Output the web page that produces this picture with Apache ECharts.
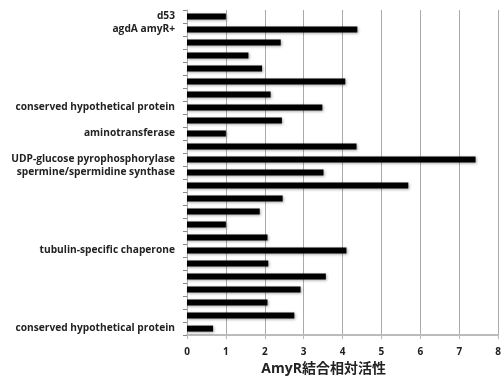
<!DOCTYPE html>
<html><head><meta charset="utf-8">
<script src="https://cdn.jsdelivr.net/npm/echarts@6/dist/echarts.min.js"></script>
<style>html,body{margin:0;padding:0;background:#fff}#c{width:504px;height:381px}</style>
</head><body><div id="c"></div>
<script>
const categories = ["d53","agdA amyR+","","","","","","conserved hypothetical protein","","aminotransferase","","UDP-glucose pyrophosphorylase","spermine/spermidine synthase","","","","","","tubulin-specific chaperone","","","","","","conserved hypothetical protein"];
const values = [1.0,4.38,2.41,1.58,1.93,4.07,2.15,3.48,2.44,1.0,4.36,7.42,3.51,5.69,2.46,1.87,1.0,2.07,4.1,2.09,3.57,2.92,2.07,2.76,0.67];
const xTicks = [0,1,2,3,4,5,6,7,8];
const xName = "AmyR結合相対活性";

const chart = echarts.init(document.getElementById('c'), null, {renderer:'canvas'});
chart.setOption({
  animation:false,
  grid:{left:187,right:3,top:10,bottom:43,containLabel:false},
  xAxis:{type:'value',min:xTicks[0],max:xTicks[xTicks.length-1],interval:1,
    name:xName,nameLocation:'middle',nameGap:22,
    nameTextStyle:{fontFamily:'"Open Sans","Noto Sans CJK JP",sans-serif',fontWeight:'bold',fontSize:14,color:'#222',padding:[0,38,0,0]},
    axisLine:{show:true,lineStyle:{color:'#bbb',width:2}},
    axisTick:{show:true,length:4,lineStyle:{color:'#bbb',width:1}},
    axisLabel:{fontFamily:'"Open Sans",sans-serif',fontWeight:'bold',fontSize:10,color:'#222',margin:12},
    splitLine:{show:true,lineStyle:{color:'#aaa',width:1}}},
  yAxis:{type:'category',data:categories,inverse:true,
    axisLine:{show:true,lineStyle:{color:'#aaa',width:1}},
    axisTick:{show:true,length:4,lineStyle:{color:'#888'}},
    axisLabel:{fontFamily:'"Open Sans",sans-serif',fontWeight:'bold',fontSize:10.2,color:'#222',margin:12,interval:0},
    splitLine:{show:false}},
  series:[{type:'bar',data:values,barWidth:6,
    itemStyle:{color:'#000',shadowColor:'rgba(0,0,0,0.35)',shadowBlur:3,shadowOffsetX:1,shadowOffsetY:1}}]
});
</script></body></html>
